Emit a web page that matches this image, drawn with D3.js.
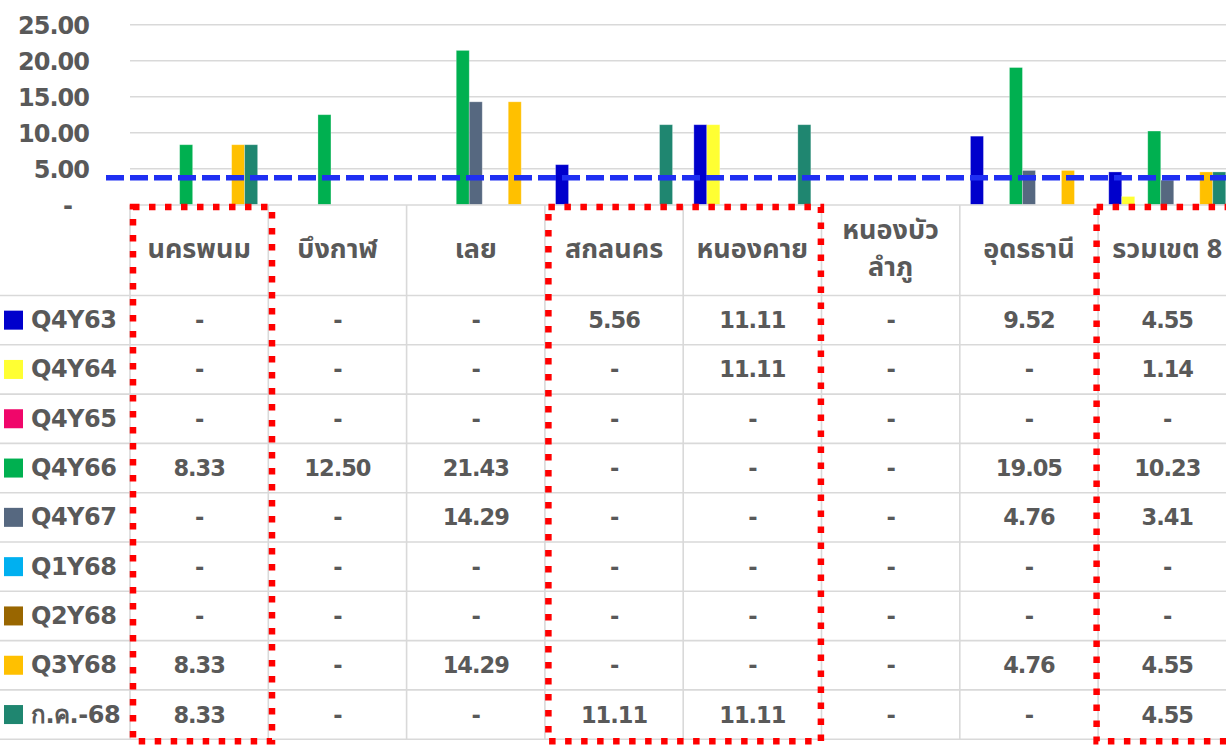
<!DOCTYPE html>
<html><head><meta charset="utf-8">
<script src="https://cdn.jsdelivr.net/npm/d3@7"></script>
<style>
html,body{margin:0;padding:0;background:#fff;}
svg{display:block;font-family:"Noto Sans Thai","Noto Sans","Open Sans",sans-serif;}
</style></head>
<body>
<svg id="c" width="1226" height="746"></svg>
<script>
const categories = ["นครพนม","บึงกาฬ","เลย","สกลนคร","หนองคาย","หนองบัว ลำภู","อุดรธานี","รวมเขต 8"];
const seriesNames = ["Q4Y63","Q4Y64","Q4Y65","Q4Y66","Q4Y67","Q1Y68","Q2Y68","Q3Y68","ก.ค.-68"];
const seriesColors = ["#0000CC","#FFFF33","#F0066A","#00B050","#566880","#00B0F0","#996600","#FFC000","#1F8670"];
const Q4Y63 = [0,0,0,5.56,11.11,0,9.52,4.55];
const Q4Y64 = [0,0,0,0,11.11,0,0,1.14];
const Q4Y65 = [0,0,0,0,0,0,0,0];
const Q4Y66 = [8.33,12.50,21.43,0,0,0,19.05,10.23];
const Q4Y67 = [0,0,14.29,0,0,0,4.76,3.41];
const Q1Y68 = [0,0,0,0,0,0,0,0];
const Q2Y68 = [0,0,0,0,0,0,0,0];
const Q3Y68 = [8.33,0,14.29,0,0,0,4.76,4.55];
const JUL68 = [8.33,0,0,11.11,11.11,0,0,4.55];
const seriesValues = [Q4Y63,Q4Y64,Q4Y65,Q4Y66,Q4Y67,Q1Y68,Q2Y68,Q3Y68,JUL68];
const yTicks = [0,5,10,15,20,25];
const targetLine = 3.75;
const highlightGroups = [["นครพนม"],["สกลนคร","หนองคาย"],["รวมเขต 8"]];

const svg = d3.select("#c");
const textColor = "#595959";
const gridColor = "#D9D9D9";
const numFont = "'DejaVu Sans','Open Sans',sans-serif";
const plotLeft = 130, step = 138.3;
const x0 = d3.scaleBand().domain(categories).range([plotLeft, plotLeft + step*categories.length]).padding(0);
const x1 = d3.scaleBand().domain(seriesNames).range([0, x0.bandwidth()]).paddingInner(0).paddingOuter(0.82);
const y = d3.scaleLinear().domain([0,25]).range([204.7, 24.7]);

// gridlines
svg.append("g").selectAll("line").data(yTicks.filter(d=>d>0)).join("line")
  .attr("x1", plotLeft).attr("x2", 1226)
  .attr("y1", d=>y(d)).attr("y2", d=>y(d))
  .attr("stroke", gridColor).attr("stroke-width", 1.6);

// y axis
const yAxis = d3.axisLeft(y).tickValues(yTicks).tickSize(0).tickPadding(0)
  .tickFormat(d => d===0 ? "-" : d.toFixed(2));
const ya = svg.append("g").attr("transform","translate(89,0)").call(yAxis);
ya.select(".domain").remove();
ya.selectAll("text").attr("fill", textColor).style("font-family",numFont)
  .style("font-size","24px").style("font-weight","700").attr("dy","0.36em")
  .attr("dx", d => d===0 ? -17 : 0).style("letter-spacing","-1px");

// bars
const bars = svg.append("g");
seriesNames.forEach((s,si)=>{
  bars.append("g").selectAll("rect").data(seriesValues[si].map((v,ci)=>({c:categories[ci],v}))).join("rect")
    .attr("x", d=>x0(d.c)+x1(s)).attr("width", x1.bandwidth())
    .attr("y", d=>y(d.v)).attr("height", d=>y(0)-y(d.v))
    .attr("fill", seriesColors[si]).attr("stroke","rgba(255,255,255,0.35)").attr("stroke-width",0.8);
});

// table
const tableTop = 205, headerH = 90.5, rowH = 49.3;
const tableBottom = tableTop + headerH + rowH*seriesNames.length;
const tbl = svg.append("g");
tbl.append("line").attr("x1", plotLeft).attr("x2",1226).attr("y1",tableTop).attr("y2",tableTop)
  .attr("stroke",gridColor).attr("stroke-width",1.6);
tbl.selectAll("line.h").data(d3.range(seriesNames.length+1)).join("line").attr("class","h")
  .attr("x1",0).attr("x2",1226)
  .attr("y1", i=>tableTop+headerH+i*rowH).attr("y2", i=>tableTop+headerH+i*rowH)
  .attr("stroke",gridColor).attr("stroke-width",1.6);
tbl.selectAll("line.v").data(categories.concat(["_end"])).join("line").attr("class","v")
  .attr("x1", (d,i)=> i<categories.length ? x0(d) : x0.range()[1])
  .attr("x2", (d,i)=> i<categories.length ? x0(d) : x0.range()[1])
  .attr("y1", tableTop).attr("y2", tableBottom)
  .attr("stroke",gridColor).attr("stroke-width",1.6);

// headers
categories.forEach(c=>{
  const cx = x0(c)+x0.bandwidth()/2;
  let lines = c.split(" ");
  if (c === "รวมเขต 8") lines = [c];
  const cy = tableTop + headerH/2 - 1;
  const lh = 37;
  lines.forEach((t,li)=>{
    tbl.append("text").attr("x",cx).attr("y", cy + (li-(lines.length-1)/2)*lh)
      .attr("text-anchor","middle").attr("dominant-baseline","central")
      .attr("fill",textColor).style("font-size","27px").style("font-weight","700").text(t);
  });
});

// legend + values
seriesNames.forEach((s,si)=>{
  const cy = tableTop + headerH + (si+0.5)*rowH;
  tbl.append("rect").attr("x",4).attr("y",cy-9.5).attr("width",19).attr("height",19).attr("fill",seriesColors[si]);
  tbl.append("text").attr("x",31).attr("y",cy).attr("dominant-baseline","central")
    .attr("fill",textColor).style("font-family",numFont).style("font-size","24px").style("font-weight","700")
    .style("letter-spacing","-0.5px").text(s);
  seriesValues[si].forEach((v,ci)=>{
    tbl.append("text").attr("x", x0(categories[ci])+x0.bandwidth()/2).attr("y",cy)
      .attr("text-anchor","middle").attr("dominant-baseline","central")
      .attr("fill",textColor).style("font-family",numFont).style("font-size","22.5px").style("font-weight","700")
      .style("letter-spacing","-1px")
      .text(v===0 ? "-" : v.toFixed(2));
  });
});

// target dashed line
svg.append("line").attr("x1",106).attr("x2",1226).attr("y1",y(targetLine)).attr("y2",y(targetLine))
  .attr("stroke","#1F2FF2").attr("stroke-width",5.5).attr("stroke-dasharray","18 6");

// highlight rectangles
const hlPadL = [3, 3.5, -1.5], hlPadR = [3.7, -0.6, 10];
const hl = svg.append("g");
highlightGroups.forEach((g,gi)=>{
  const left = x0(g[0]) + hlPadL[gi];
  const right = x0(g[g.length-1]) + x0.bandwidth() + hlPadR[gi];
  hl.append("rect").attr("x",left).attr("y",tableTop+2).attr("width",right-left)
    .attr("height", tableBottom - tableTop).attr("fill","none")
    .attr("stroke","#FF0000").attr("stroke-width",6.5).attr("stroke-dasharray","6.5 9.5");
});
</script>
</body></html>
